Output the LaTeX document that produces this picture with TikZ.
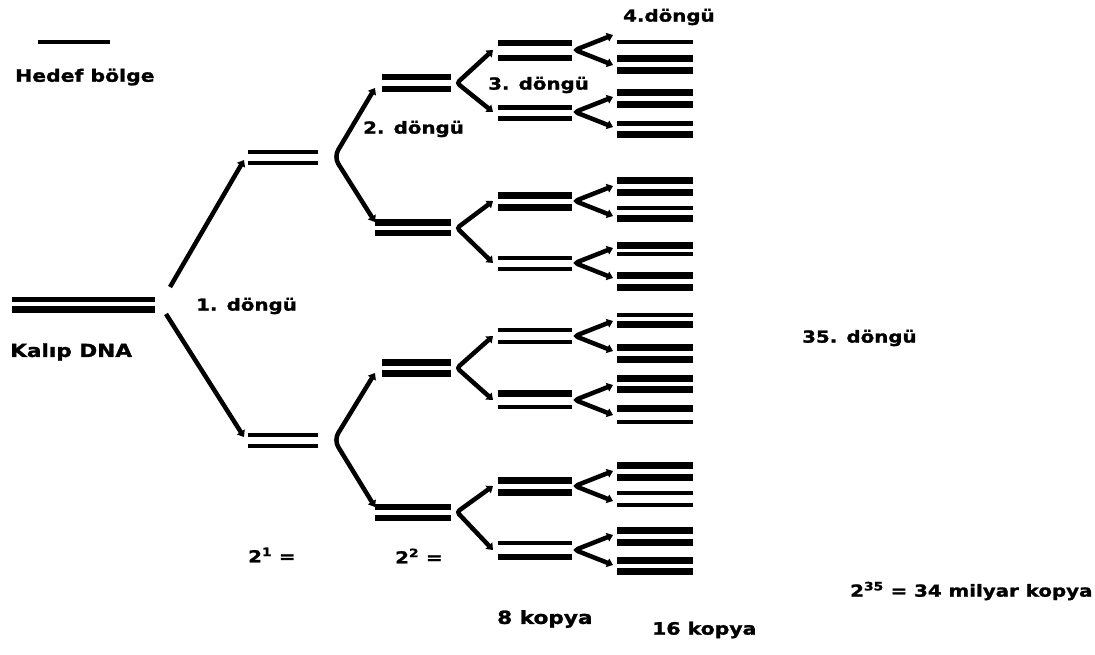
\documentclass[tikz,border=0pt]{standalone}
\usepackage{fontspec}
\setmainfont{DejaVu Sans}[FakeStretch=1.2, BoldFeatures={FakeBold=1.5}]
\usetikzlibrary{arrows.meta}
\begin{document}
\begin{tikzpicture}[x=1pt,y=-1pt,
  conn/.style={line width=4.5pt, rounded corners=3pt},
  tipboth/.style={{Triangle[width=9pt,length=6pt]}-{Triangle[width=9pt,length=6pt]}},
  tipend/.style={-{Triangle[width=9pt,length=6pt]}},
  lbl/.style={inner sep=0pt, anchor=west, font=\bfseries\fontsize{16.5}{18}\selectfont}]
\fill[white] (0,0) rectangle (1095,654);
\useasboundingbox (0,0) rectangle (1095,654);

% legend
\coordinate (lg1) at (38,42); \coordinate (lg2) at (110,42);
\draw[line width=4pt] (lg1) -- (lg2);
\node[lbl, font=\bfseries\fontsize{17}{19}\selectfont] (hedef) at (15,77) {Hedef bölge};

% template DNA
\draw[line width=5pt] (12,299) -- (155,299);
\draw[line width=7pt] (12,309) -- (155,309);
\node[lbl, font=\bfseries\fontsize{18}{20}\selectfont] (kalip) at (10,352) {Kalıp DNA};

% level 1 strands
\foreach \y/\w in {152/4,163/4,435/4,446/4}
  \draw[line width=\w pt] (248,\y) -- (318,\y);
% level 2 strands
\foreach \xa/\y/\w in {382/77/6,382/89/6,375/222/7,375/233/6,382/362/7,382/373/7,375/507/6,375/518/6}
  \draw[line width=\w pt] (\xa,\y) -- (451,\y);
% level 3 strands
\foreach \y/\w in {43/6,58/6,107/5,118/5,195/7,207/7,258/4,269/4,330/4,342/4,393/7,407/4,480/7,492/7,543/4,557/6}
  \draw[line width=\w pt] (498,\y) -- (572,\y);
% level 4 strands
\foreach \y/\w in {42/4,58/7,70/7,92/7,104/7,123/5,134/7,
                   180/7,192/7,208/4,218/7,245/7,254/4,275/7,287/7,
                   315/4,324/7,347/7,359/7,378/7,389/7,408/7,422/4,
                   465/7,477/7,493/4,505/4,530/7,542/7,560/7,571/7}
  \draw[line width=\w pt] (617,\y) -- (693,\y);

% cycle 1 connectors
\coordinate (a0u) at (170,287); \coordinate (a0d) at (166,314);
\coordinate (n1u) at (244,160); \coordinate (n1d) at (244,437);
\draw[conn, tipend] (a0u) -- (n1u);
\draw[conn, tipend] (a0d) -- (n1d);

% cycle 2 connectors
\coordinate (a1u) at (334,157); \coordinate (a1d) at (334,440);
\coordinate (n2a) at (375,88);  \coordinate (n2b) at (375,222);
\coordinate (n2c) at (375,373); \coordinate (n2d) at (375,507);
\draw[conn, tipboth, rounded corners=8pt] (n2a) -- (a1u) -- (n2b);
\draw[conn, tipboth, rounded corners=8pt] (n2c) -- (a1d) -- (n2d);

% cycle 3 connectors
\foreach \c/\u/\d [count=\i] in {83/50/112,228/201/263,368/336/400,512/486/550}{
  \coordinate (a2-\i) at (457,\c);
  \coordinate (u3-\i) at (493,\u);
  \coordinate (d3-\i) at (493,\d);
  \draw[conn, tipboth] (u3-\i) -- (a2-\i) -- (d3-\i);
}

% cycle 4 connectors
\foreach \c [count=\i] in {50,112,201,263,336,400,486,550}{
  \coordinate (a3-\i) at (575,\c);
  \coordinate (u4-\i) at ({613},{\c-15});
  \coordinate (d4-\i) at ({613},{\c+15});
  \draw[conn, tipboth] (u4-\i) -- (a3-\i) -- (d4-\i);
}

% labels
\node[lbl] (d1) at (196,306) {1. döngü};
\node[lbl] (d2) at (363,129) {2. döngü};
\node[lbl] (d3) at (488,85) {3. döngü};
\node[lbl] (d4) at (623,17) {4.döngü};
\node[lbl] (d35) at (802,338) {35. döngü};
\node[lbl] (e1) at (248,555) {2\textsuperscript{1} =};
\node[lbl] (e2) at (395,556) {2\textsuperscript{2} =};
\node[lbl, font=\bfseries\fontsize{18}{20}\selectfont] (k8) at (497,619) {8 kopya};
\node[lbl, font=\bfseries\fontsize{17}{19}\selectfont] (k16) at (652,630) {16 kopya};
\node[lbl] (e35) at (850,591) {2\textsuperscript{35} = 34 milyar kopya};
\end{tikzpicture}
\end{document}
